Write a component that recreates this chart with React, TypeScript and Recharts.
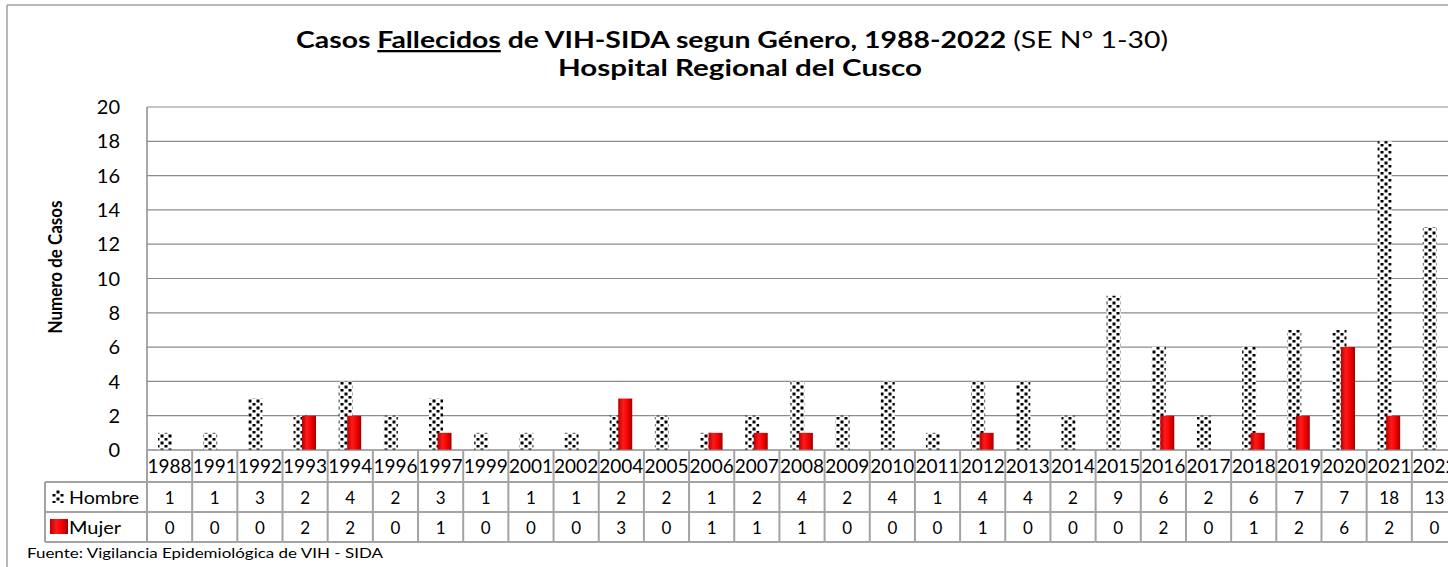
import React from "react";
import { BarChart, Bar, XAxis, YAxis, CartesianGrid } from "recharts";

const years = [
  "1988", "1991", "1992", "1993", "1994", "1996", "1997", "1999", "2001", "2002",
  "2004", "2005", "2006", "2007", "2008", "2009", "2010", "2011", "2012", "2013",
  "2014", "2015", "2016", "2017", "2018", "2019", "2020", "2021", "2022",
];
const hombre = [1, 1, 3, 2, 4, 2, 3, 1, 1, 1, 2, 2, 1, 2, 4, 2, 4, 1, 4, 4, 2, 9, 6, 2, 6, 7, 7, 18, 13];
const mujer = [0, 0, 0, 2, 2, 0, 1, 0, 0, 0, 3, 0, 1, 1, 1, 0, 0, 0, 1, 0, 0, 0, 2, 0, 1, 2, 6, 2, 0];
const yTicks = [0, 2, 4, 6, 8, 10, 12, 14, 16, 18, 20];

const data = years.map((year, i) => ({ year, hombre: hombre[i], mujer: mujer[i] }));

const FONT = "Lato, 'Open Sans', sans-serif";
const GRID = "#8c8c8c";
const TABLE = "#a3a3a3";

// data table under the plot, drawn per category tick
const TableTick = (props: any) => {
  const { x, y, payload } = props;
  const half = payload?.offset || 22.6;
  const i = payload?.index ?? props.index;
  const l = x - half;
  const r = x + half;
  const txt = { textAnchor: "middle" as const, fontFamily: FONT, fill: "#000" };
  return (
    <g>
      <text x={x} y={y + 23} fontSize={19} {...txt}>{payload.value}</text>
      <text x={x} y={y + 54} fontSize={17} {...txt}>{hombre[i]}</text>
      <text x={x} y={y + 84} fontSize={17} {...txt}>{mujer[i]}</text>
      <line x1={r} x2={r} y1={y} y2={y + 92} stroke={TABLE} strokeWidth={2} />
      <line x1={l} x2={r} y1={y + 32} y2={y + 32} stroke={TABLE} strokeWidth={2} />
      <line x1={l} x2={r} y1={y + 62} y2={y + 62} stroke={TABLE} strokeWidth={2} />
      <line x1={l} x2={r} y1={y + 92} y2={y + 92} stroke={TABLE} strokeWidth={2} />
      {i === 0 && (
        <g>
          <line x1={l} x2={l} y1={y} y2={y + 92} stroke={TABLE} strokeWidth={2} />
          <line x1={45} x2={l} y1={y + 32} y2={y + 32} stroke={TABLE} strokeWidth={2} />
          <line x1={45} x2={l} y1={y + 62} y2={y + 62} stroke={TABLE} strokeWidth={2} />
          <line x1={45} x2={l} y1={y + 92} y2={y + 92} stroke={TABLE} strokeWidth={2} />
          <line x1={45} x2={45} y1={y + 32} y2={y + 92} stroke={TABLE} strokeWidth={2} />
          <rect x={52} y={y + 40} width={12} height={13} fill="url(#hombrePat)" />
          <text x={69} y={y + 54} fontSize={18} fontFamily={FONT} fill="#000" textLength={70} lengthAdjust="spacingAndGlyphs">Hombre</text>
          <rect x={50} y={y + 69} width={18} height={15} fill="url(#mujerGrad)" />
          <text x={69} y={y + 84} fontSize={18} fontFamily={FONT} fill="#000" textLength={52} lengthAdjust="spacingAndGlyphs">Mujer</text>
        </g>
      )}
    </g>
  );
};

export default function App() {
  return (
    <div style={{ position: "fixed", left: 0, top: 0, width: 1448, height: 567, overflow: "hidden", background: "#fff" }}>
      <BarChart
        width={1480}
        height={567}
        data={data}
        margin={{ top: 107, right: 23, bottom: 0, left: 47 }}
        barSize={14}
        barGap={-5.5}
      >
        <defs>
          <pattern id="hombrePat" patternUnits="userSpaceOnUse" width={8} height={7}>
            <rect width={8} height={7} fill="#fff" />
            <rect x={0.5} y={0.5} width={3} height={3} fill="#000" />
            <rect x={4.5} y={4} width={3} height={2.5} fill="#000" />
          </pattern>
          <linearGradient id="mujerGrad" x1="0" y1="0" x2="1" y2="0">
            <stop offset="0%" stopColor="#b80000" />
            <stop offset="35%" stopColor="#ff1a1a" />
            <stop offset="70%" stopColor="#f00000" />
            <stop offset="100%" stopColor="#a00000" />
          </linearGradient>
        </defs>
        <line x1={7} x2={1480} y1={5} y2={5} stroke="#a0a0a0" strokeWidth={1.5} />
        <line x1={7} x2={7} y1={5} y2={567} stroke="#a0a0a0" strokeWidth={1.5} />
        <text
          x={296}
          y={48}
          fontFamily={FONT}
          fontWeight="bold"
          fontSize={23}
          fill="#000"
          textLength={872}
          lengthAdjust="spacingAndGlyphs"
        >
          Casos <tspan textDecoration="underline">Fallecidos</tspan> de VIH-SIDA segun Género, 1988-2022{" "}
          <tspan fontWeight="normal">(SE N° 1-30)</tspan>
        </text>
        <text
          x={558}
          y={76}
          fontFamily={FONT}
          fontWeight="bold"
          fontSize={23}
          fill="#000"
          textLength={364}
          lengthAdjust="spacingAndGlyphs"
        >
          Hospital Regional del Cusco
        </text>
        <text
          x={62}
          y={267}
          transform="rotate(-90 62 267)"
          textAnchor="middle"
          fontFamily={FONT}
          fontWeight="bold"
          fontSize={18}
          fill="#000"
          textLength={133}
          lengthAdjust="spacingAndGlyphs"
        >
          Numero de Casos
        </text>
        <text
          x={27}
          y={558}
          fontFamily={FONT}
          fontSize={13}
          fill="#000"
          textLength={356}
          lengthAdjust="spacingAndGlyphs"
        >
          Fuente:  Vigilancia  Epidemiológica  de VIH - SIDA
        </text>
        <CartesianGrid vertical={false} stroke={GRID} strokeWidth={1.2} />
        <XAxis
          dataKey="year"
          height={117}
          interval={0}
          tickLine={false}
          tickSize={0}
          tickMargin={0}
          axisLine={{ stroke: GRID }}
          tick={<TableTick />}
        />
        <YAxis
          width={100}
          domain={[0, 20]}
          ticks={yTicks}
          tickLine={false}
          tickSize={0}
          tickMargin={27}
          axisLine={{ stroke: GRID, strokeWidth: 1.5 }}
          tick={{ fill: "#000", fontSize: 20, fontFamily: FONT }}
        />
        <Bar dataKey="hombre" fill="url(#hombrePat)" isAnimationActive={false} />
        <Bar dataKey="mujer" fill="url(#mujerGrad)" isAnimationActive={false} />
      </BarChart>
    </div>
  );
}
